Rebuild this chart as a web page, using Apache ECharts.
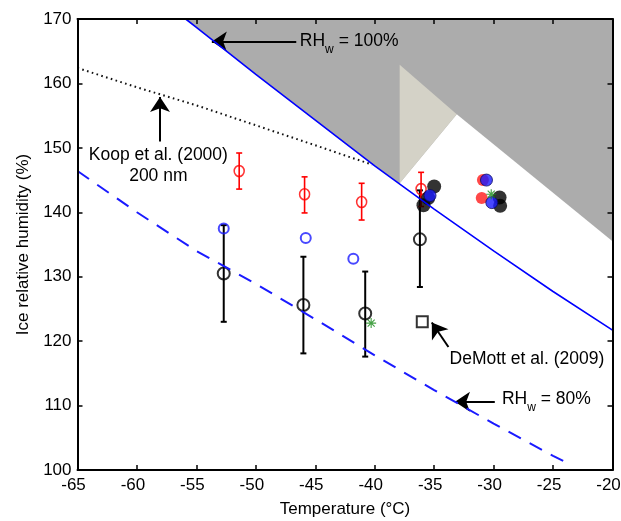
<!DOCTYPE html>
<html>
<head>
<meta charset="utf-8">
<script src="https://cdn.jsdelivr.net/npm/echarts@6/dist/echarts.min.js"></script>
<style>
  html, body { margin: 0; padding: 0; background: #fff; }
  #chart { width: 621px; height: 521px; }
</style>
</head>
<body>
<div id="chart"></div>
<script>
// Water saturation expressed as ice relative humidity (RHw = 100%)
const satTemp = [-55.9, -55, -50, -45, -40, -35, -30, -25, -20];
const satRHi  = [170.0, 168.7, 161.4, 154.3, 147.2, 140.5, 134.0, 127.7, 121.7];

// RHw = 80% curve
const rh80Temp = [-65, -60, -55, -50, -45, -40, -35, -30, -25, -23.5];
const rh80RHi  = [146.4, 140.0, 134.0, 128.9, 123.4, 117.8, 112.4, 107.2, 102.2, 100.8];

// Koop et al. (2000) homogeneous freezing threshold for 200 nm droplets
const koopTemp = [-65, -60, -55, -50, -45, -42, -40.2];
const koopRHi  = [162.4, 159.4, 156.6, 153.5, 150.4, 148.5, 147.4];

// Shaded regions (temperature, RHi vertices)
const tanTriangle = [[-37.9, 162.9], [-33.1, 155.2], [-37.9, 144.5]];
const clearWedge  = [[-37.9, 144.5], [-33.1, 155.2], [-20, 135.5], [-20, 100], [-37.9, 100]];

// Red open circles with error bars
const redTemp = [-51.4, -45.9, -41.1, -36.1];
const redRHi  = [146.4, 142.8, 141.6, 143.6];
const redLow  = [143.6, 139.9, 138.8, 140.9];
const redHigh = [149.2, 145.5, 144.5, 146.2];

// Black open circles with error bars
const blackTemp = [-52.7, -46.0, -40.8, -36.2];
const blackRHi  = [130.5, 125.6, 124.3, 135.8];
const blackLow  = [123.0, 118.1, 117.6, 128.4];
const blackHigh = [138.0, 133.1, 130.8, 143.4];

// Blue open circles
const blueTemp = [-52.7, -45.8, -41.8];
const blueRHi  = [137.5, 136.0, 132.8];

// Filled markers
const blackFilledTemp = [-35.0, -35.5, -35.9, -29.5, -29.45];
const blackFilledRHi  = [144.0, 142.2, 141.1, 142.3, 141.0];
const redFilledTemp   = [-30.9, -31.0];
const redFilledRHi    = [145.0, 142.2];
const blueFilledTemp  = [-30.6, -30.15, -35.35];
const blueFilledRHi   = [145.0, 141.5, 142.6];

// Green asterisks
const greenTemp = [-40.3, -30.2];
const greenRHi  = [122.8, 142.8];

// DeMott et al. (2009)
const demottTemp = [-36.0];
const demottRHi  = [123.0];

// Axis ticks
const xTicks = { min: -65, max: -20, step: 5 };
const yTicks = { min: 100, max: 170, step: 10 };

const FONT = 'Liberation Sans, Arial, sans-serif';
const zip = (a, b) => a.map((v, i) => [v, b[i]]);

// Annotation arrows: [tail, head]
const arrows = [
  [[-46.6, 166.5], [-53.7, 166.5]],
  [[-58.06, 151.0], [-58.06, 157.9]],
  [[-33.8, 119.1], [-35.2, 122.9]],
  [[-29.9, 110.6], [-33.25, 110.6]]
];

// Annotation texts
const notes = [
  { pos: [-46.3, 166.6], text: '{n|RH}{s|w}{n| = 100%}', align: 'left' },
  { pos: [-58.2, 148.9], text: '{n|Koop et al. (2000)}', align: 'center' },
  { pos: [-58.2, 145.6], text: '{n|200 nm}', align: 'center' },
  { pos: [-27.2, 117.2], text: '{n|DeMott et al. (2009)}', align: 'center' },
  { pos: [-29.3, 111.0], text: '{n|RH}{s|w}{n| = 80%}', align: 'left' }
];

const richStyles = {
  n: { fontSize: 17.5, fontFamily: FONT, lineHeight: 30, fill: '#000', color: '#000' },
  s: { fontSize: 12, fontFamily: FONT, lineHeight: 12, verticalAlign: 'bottom', fill: '#000', color: '#000' }
};

function errorBarSeries(temp, low, high, color, width) {
  return {
    type: 'custom',
    xAxisIndex: 0, yAxisIndex: 0,
    silent: true,
    data: temp.map((t, i) => [t, low[i], high[i]]),
    renderItem(params, api) {
      const x = api.value(0);
      const lo = api.coord([x, api.value(1)]);
      const hi = api.coord([x, api.value(2)]);
      const cap = 3;
      const style = { stroke: color, lineWidth: width };
      return {
        type: 'group',
        children: [
          { type: 'line', shape: { x1: lo[0], y1: lo[1], x2: hi[0], y2: hi[1] }, style },
          { type: 'line', shape: { x1: lo[0] - cap, y1: lo[1], x2: lo[0] + cap, y2: lo[1] }, style },
          { type: 'line', shape: { x1: hi[0] - cap, y1: hi[1], x2: hi[0] + cap, y2: hi[1] }, style }
        ]
      };
    }
  };
}

function scatter(temp, rhi, opts) {
  return Object.assign({
    type: 'scatter',
    xAxisIndex: 0, yAxisIndex: 0,
    silent: true,
    data: zip(temp, rhi)
  }, opts);
}

const asteriskPath = 'path://M-0.9,-8L0.9,-8L0.9,8L-0.9,8Z M-8,-0.9L8,-0.9L8,0.9L-8,0.9Z M-6.3,-5L-5,-6.3L6.3,5L5,6.3Z M5,-6.3L6.3,-5L-5,6.3L-6.3,5Z';

const axisCommon = {
  type: 'value',
  z: 5,
  axisLine: { show: true, onZero: false, lineStyle: { color: '#000', width: 2 } },
  axisTick: { show: true, inside: true, length: 5, lineStyle: { color: '#000', width: 1.5 } },
  splitLine: { show: false }
};

const chart = echarts.init(document.getElementById('chart'), null, { renderer: 'canvas' });

chart.setOption({
  animation: false,
  backgroundColor: '#fff',
  grid: { left: 77.5, right: 8.5, top: 19, bottom: 51, containLabel: false, outerBoundsMode: 'none' },
  xAxis: [
    Object.assign({}, axisCommon, {
      position: 'bottom',
      min: xTicks.min, max: xTicks.max, interval: xTicks.step,
      axisLabel: { color: '#000', fontSize: 17, fontFamily: FONT, margin: 7, padding: [0, 8, 0, 0] },
      name: 'Temperature (°C)',
      nameLocation: 'middle',
      nameGap: 31,
      nameTextStyle: { color: '#000', fontSize: 17, fontFamily: FONT }
    }),
    Object.assign({}, axisCommon, {
      position: 'top',
      min: xTicks.min, max: xTicks.max, interval: xTicks.step,
      axisLabel: { show: false }
    })
  ],
  yAxis: [
    Object.assign({}, axisCommon, {
      position: 'left',
      min: yTicks.min, max: yTicks.max, interval: yTicks.step,
      axisLabel: { color: '#000', fontSize: 17, fontFamily: FONT, margin: 6 },
      name: 'Ice relative humidity (%)',
      nameLocation: 'middle',
      nameRotate: 90,
      nameGap: 45,
      nameTextStyle: { color: '#000', fontSize: 17, fontFamily: FONT }
    }),
    Object.assign({}, axisCommon, {
      position: 'right',
      min: yTicks.min, max: yTicks.max, interval: yTicks.step,
      axisLabel: { show: false }
    })
  ],
  series: [
    // shaded regions above water saturation
    {
      type: 'custom',
      xAxisIndex: 0, yAxisIndex: 0,
      silent: true,
      clip: true,
      z: 0,
      data: [[-20, 170]],
      renderItem(params, api) {
        const gray = zip(satTemp, satRHi).concat([[-20, 170]]).map(p => api.coord(p));
        const wedge = clearWedge.map(p => api.coord(p));
        const tri = tanTriangle.map(p => api.coord(p));
        return {
          type: 'group',
          children: [
            { type: 'polygon', shape: { points: gray }, style: { fill: '#acacac' } },
            { type: 'polygon', shape: { points: wedge }, style: { fill: '#ffffff' } },
            { type: 'polygon', shape: { points: tri }, style: { fill: '#d4d2c7' } }
          ]
        };
      }
    },
    {
      name: 'RHw = 80%',
      type: 'line',
      silent: true,
      data: zip(rh80Temp, rh80RHi),
      symbol: 'none',
      lineStyle: { color: '#1a1aff', width: 2, type: [14, 10] }
    },
    {
      name: 'Koop et al. (2000)',
      type: 'line',
      silent: true,
      data: zip(koopTemp, koopRHi),
      symbol: 'none',
      lineStyle: { color: '#111', width: 2, type: [1.6, 3.4] }
    },
    {
      name: 'RHw = 100%',
      type: 'line',
      silent: true,
      data: zip(satTemp, satRHi),
      symbol: 'none',
      lineStyle: { color: '#0000ff', width: 1.6 }
    },
    errorBarSeries(blackTemp, blackLow, blackHigh, '#000', 2),
    errorBarSeries(redTemp, redLow, redHigh, '#ff0000', 1.6),
    scatter(blackTemp, blackRHi, {
      symbol: 'circle', symbolSize: 12,
      itemStyle: { color: 'rgba(0,0,0,0)', borderColor: '#000', borderWidth: 2 }
    }),
    scatter(redTemp, redRHi, {
      symbol: 'circle', symbolSize: [10, 11],
      itemStyle: { color: 'rgba(0,0,0,0)', borderColor: '#ff0000', borderWidth: 1.6 }
    }),
    scatter(blueTemp, blueRHi, {
      symbol: 'circle', symbolSize: 10,
      itemStyle: { color: 'rgba(0,0,0,0)', borderColor: '#1a1aff', borderWidth: 2 }
    }),
    scatter(blackFilledTemp, blackFilledRHi, {
      symbol: 'circle', symbolSize: 14,
      itemStyle: { color: '#000' }
    }),
    scatter(redFilledTemp, redFilledRHi, {
      symbol: 'circle', symbolSize: 12,
      itemStyle: { color: '#ff1a1a' }
    }),
    scatter(blueFilledTemp, blueFilledRHi, {
      symbol: 'circle', symbolSize: 12,
      itemStyle: { color: '#1a1aff', borderColor: '#0a0a60', borderWidth: 1 }
    }),
    scatter(greenTemp, greenRHi, {
      symbol: asteriskPath, symbolSize: 10,
      itemStyle: { color: '#178a17' }
    }),
    scatter(demottTemp, demottRHi, {
      symbol: 'rect', symbolSize: 11,
      itemStyle: { color: 'rgba(0,0,0,0)', borderColor: '#000', borderWidth: 2 }
    }),
    {
      type: 'lines',
      coordinateSystem: 'cartesian2d',
      xAxisIndex: 0, yAxisIndex: 0,
      silent: true,
      symbol: ['none', 'arrow'],
      symbolSize: 15,
      lineStyle: { color: '#000', width: 2, opacity: 1 },
      data: arrows.map(a => ({ coords: a }))
    },
    {
      type: 'custom',
      xAxisIndex: 0, yAxisIndex: 0,
      silent: true,
      clip: false,
      data: notes.map(n => n.pos),
      renderItem(params, api) {
        const note = notes[params.dataIndex];
        const p = api.coord([api.value(0), api.value(1)]);
        return {
          type: 'text',
          x: p[0], y: p[1],
          style: {
            text: note.text,
            rich: richStyles,
            fontSize: 17.5,
            fontFamily: FONT,
            fill: '#000',
            align: note.align,
            verticalAlign: 'middle'
          }
        };
      }
    }
  ]
});
</script>
</body>
</html>
